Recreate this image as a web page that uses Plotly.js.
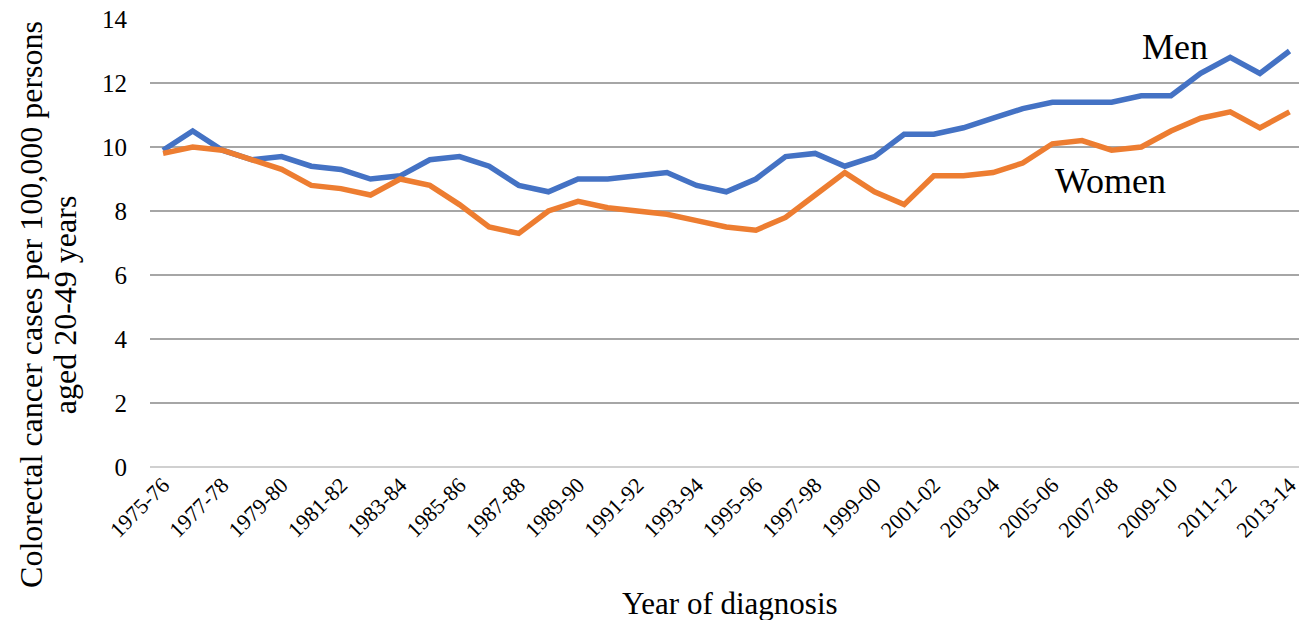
<!DOCTYPE html>
<html>
<head>
<meta charset="utf-8">
<script src="https://cdn.plot.ly/plotly-3.0.1.min.js"></script>
<style>html,body{margin:0;padding:0;background:#fff;}#chart{width:1299px;height:620px;}</style>
</head>
<body>
<div id="chart"></div>
<script>
const categories = ["1975-76","1976-77","1977-78","1978-79","1979-80","1980-81","1981-82","1982-83","1983-84","1984-85",
"1985-86","1986-87","1987-88","1988-89","1989-90","1990-91","1991-92","1992-93","1993-94","1994-95",
"1995-96","1996-97","1997-98","1998-99","1999-00","2000-01","2001-02","2002-03","2003-04","2004-05",
"2005-06","2006-07","2007-08","2008-09","2009-10","2010-11","2011-12","2012-13","2013-14"];
const men = [9.9,10.5,9.9,9.6,9.7,9.4,9.3,9.0,9.1,9.6,
9.7,9.4,8.8,8.6,9.0,9.0,9.1,9.2,8.8,8.6,
9.0,9.7,9.8,9.4,9.7,10.4,10.4,10.6,10.9,11.2,
11.4,11.4,11.4,11.6,11.6,12.3,12.8,12.3,13.0];
const women = [9.8,10.0,9.9,9.6,9.3,8.8,8.7,8.5,9.0,8.8,
8.2,7.5,7.3,8.0,8.3,8.1,8.0,7.9,7.7,7.5,
7.4,7.8,8.5,9.2,8.6,8.2,9.1,9.1,9.2,9.5,
10.1,10.2,9.9,10.0,10.5,10.9,11.1,10.6,11.1];
const tickLabels = categories.filter((c, i) => i % 2 === 0);
const yTicks = [0,2,4,6,8,10,12,14];
const yTitleLines = ["Colorectal cancer cases per 100,000 persons", "aged 20-49 years"];
const xTitle = "Year of diagnosis";

const font = "Liberation Serif, Times New Roman, serif";
const traces = [
  {x: categories, y: men, type: "scatter", mode: "lines", name: "Men",
   line: {color: "#4472C4", width: 5.5}},
  {x: categories, y: women, type: "scatter", mode: "lines", name: "Women",
   line: {color: "#ED7D31", width: 5.5}}
];
const layout = {
  width: 1299, height: 620,
  margin: {l: 150, r: 0, t: 19, b: 153},
  paper_bgcolor: "#fff", plot_bgcolor: "#fff",
  showlegend: false,
  font: {family: font, color: "#000", size: 22},
  xaxis: {
    type: "category",
    range: [-0.44, 38.32],
    tickmode: "array", tickvals: tickLabels, ticktext: tickLabels,
    tickangle: -45,
    showgrid: false, zeroline: false, showline: false, ticks: "",
    tickfont: {family: font, size: 22, color: "#000"}
  },
  yaxis: {
    range: [0, 14],
    tickmode: "array", tickvals: yTicks,
    showgrid: true, gridcolor: "#a6a6a6", gridwidth: 1.5,
    zeroline: true, zerolinecolor: "#d0d0d0", zerolinewidth: 1.5,
    showline: false, ticks: "",
    ticklabelstandoff: 22,
    tickfont: {family: font, size: 25, color: "#000"}
  },
  annotations: [
    {text: yTitleLines[0], x: -0.1035, y: 0.362, xref: "paper", yref: "paper", textangle: -90,
     showarrow: false, font: {family: font, size: 32, color: "#000"}, xanchor: "center", yanchor: "middle"},
    {text: yTitleLines[1], x: -0.0745, y: 0.362, xref: "paper", yref: "paper", textangle: -90,
     showarrow: false, font: {family: font, size: 32, color: "#000"}, xanchor: "center", yanchor: "middle"},
    {text: xTitle, x: 0.5048, y: -0.3036, xref: "paper", yref: "paper",
     showarrow: false, font: {family: font, size: 31, color: "#000"}, xanchor: "center", yanchor: "middle"},
    {text: "Men", x: 34.13, y: 13.14, xref: "x", yref: "y", showarrow: false,
     font: {family: font, size: 36, color: "#000"}, xanchor: "center", yanchor: "middle"},
    {text: "Women", x: 31.96, y: 8.95, xref: "x", yref: "y", showarrow: false,
     font: {family: font, size: 36, color: "#000"}, xanchor: "center", yanchor: "middle"}
  ]
};
Plotly.newPlot("chart", traces, layout, {displayModeBar: false, staticPlot: true});
</script>
</body>
</html>
